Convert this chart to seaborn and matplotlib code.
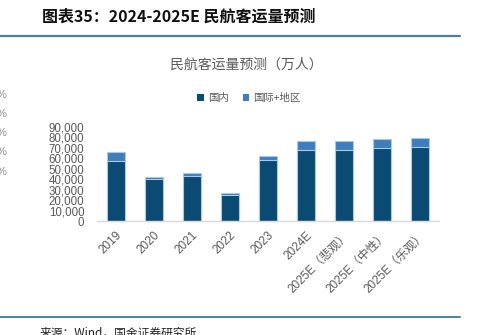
import matplotlib
matplotlib.use("Agg")
import matplotlib.pyplot as plt
from matplotlib.lines import Line2D
from matplotlib.patches import Patch
import seaborn as sns
import pandas as pd
import numpy as np

# Civil aviation passenger volume (10k persons)
categories = ["2019", "2020", "2021", "2022", "2023", "2024E",
              "2025E（悲观）", "2025E（中性）", "2025E（乐观）"]
domestic = [57200, 39800, 43300, 24900, 58100, 67600, 67600, 69500, 70800]
international = [8800, 2200, 2200, 2100, 4500, 8900, 8900, 9200, 9100]
y_ticks = [0, 10000, 20000, 30000, 40000, 50000, 60000, 70000, 80000, 90000]

DARK = "#0b4a72"
LIGHT = "#3f7dbc"
EDGE = "#a9c8ea"
GRAY = "#595959"

sns.set_theme(style="white")
plt.rcParams["font.family"] = ["Liberation Sans", "Noto Sans CJK SC", "DejaVu Sans"]

df = pd.DataFrame({
    "cat": categories,
    "domestic": domestic,
    "total": np.array(domestic) + np.array(international),
})

fig = plt.figure(figsize=(4.83, 3.35), dpi=100)
ax = fig.add_axes([97 / 483, 1 - 221 / 335, 342 / 483, 94 / 335])

sns.barplot(data=df, x="cat", y="total", color=LIGHT, saturation=1,
            width=0.45, edgecolor=EDGE, linewidth=0.8, ax=ax)
sns.barplot(data=df, x="cat", y="domestic", color=DARK, saturation=1,
            width=0.45, edgecolor=EDGE, linewidth=0.8, ax=ax)

ax.set_xlim(-0.5, len(categories) - 0.5)
ax.set_ylim(0, 90000)
ax.set_yticks(y_ticks)
ax.set_yticklabels([f"{v:,}" for v in y_ticks], fontsize=8.3, color=GRAY)
ax.set_xticks(range(len(categories)))
ax.set_xticklabels(categories, rotation=45, ha="right", rotation_mode="anchor",
                   fontsize=8.5, color=GRAY)
ax.set_xlabel("")
ax.set_ylabel("")
ax.tick_params(axis="y", length=0, pad=9)
ax.tick_params(axis="x", which="major", length=0, pad=6)
ax.set_xticks(np.arange(-0.5, len(categories), 1.0), minor=True)
ax.tick_params(axis="x", which="minor", length=4, color="#d9d9d9", width=0.8)
for side in ["top", "right", "left"]:
    ax.spines[side].set_visible(False)
ax.spines["bottom"].set_color("#d9d9d9")
ax.spines["bottom"].set_linewidth(1.0)

# Chart title and legend
fig.text(246 / 483, 1 - 65 / 335, "民航客运量预测（万人）", ha="center", va="center",
         fontsize=10, color=GRAY, family=["Noto Sans CJK SC", "DejaVu Sans"])
handles = [Patch(facecolor=DARK, edgecolor="none", label="国内"),
           Patch(facecolor=LIGHT, edgecolor="none", label="国际+地区")]
fig.legend(handles=handles, loc="center", bbox_to_anchor=(249 / 483, 1 - 98 / 335),
           ncol=2, frameon=False, labelcolor=GRAY,
           handlelength=0.6, handleheight=0.6, handletextpad=0.4, columnspacing=1.4,
           prop={"family": ["Noto Sans CJK SC", "DejaVu Sans"], "size": 7.5})

# Report header and footer
fig.text(42 / 483, 1 - 17 / 335, "图表35：2024-2025E 民航客运量预测", ha="left", va="center",
         fontsize=11.5, fontweight="bold", color="#111111",
         family=["Noto Sans CJK SC", "DejaVu Sans"])
fig.add_artist(Line2D([0, 460 / 483], [1 - 36 / 335] * 2, transform=fig.transFigure,
                      color="#4f7f98", linewidth=1.6))
fig.add_artist(Line2D([0, 460 / 483], [1 - 317 / 335] * 2, transform=fig.transFigure,
                      color="#4f7f98", linewidth=1.4))
fig.text(40 / 483, 1 - 333 / 335, "来源：Wind，国金证券研究所", ha="left", va="center",
         fontsize=8.5, color="#222222", family=["Noto Sans CJK SC", "DejaVu Sans"])

# Edge of neighbouring axis labels
for yy in [95, 114, 133, 152, 172]:
    fig.text(-3 / 483, 1 - yy / 335, "%", ha="left", va="center", fontsize=8, color="#8c8c8c")

fig.savefig("out.png", dpi=100)
